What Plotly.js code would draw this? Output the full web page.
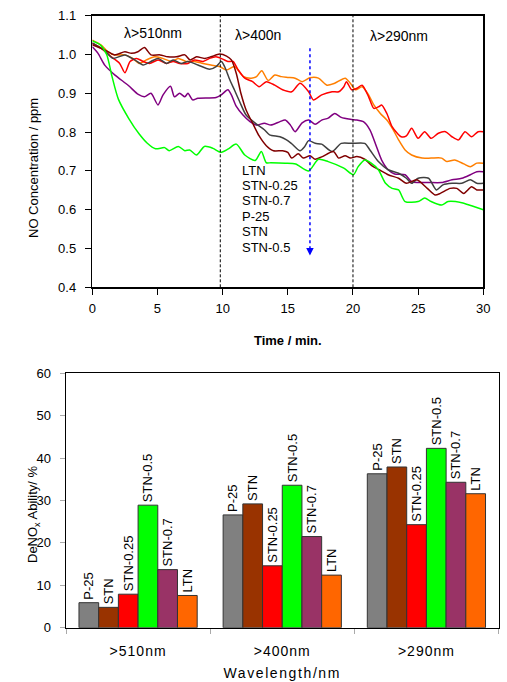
<!DOCTYPE html>
<html><head><meta charset="utf-8">
<script src="https://cdn.plot.ly/plotly-3.0.1.min.js"></script>
<style>html,body{margin:0;padding:0;background:#fff}#chart{width:507px;height:682px}
.x2tick text{letter-spacing:1px}
.x2title{letter-spacing:1.6px}
</style>
</head><body><div id="chart"></div>
<script>
// ---- Top chart: NO concentration vs time ----
const ltnT = [0,0.69,1.2,1.7,2.5,3.1,3.6,4.15,4.8,5.4,6.1,6.6,7.2,7.85,8.5,9.1,9.77,10.3,10.9,11.6,12.2,12.6,13.0,13.5,14.0,14.5,15.0,15.56,16.1,16.7,17.35,18.0,18.6,19.4,19.8,20.2,20.7,21.2,21.6,22.1,22.6,23.1,23.5,24.0,24.5,25.3,26.0,26.8,27.2,27.8,28.5,29.0,29.5,30];
const ltnV = [1.037,1.024,1.007,0.999,0.999,0.99,0.977,0.986,0.994,0.99,0.982,0.99,0.982,0.982,0.977,0.973,0.969,0.96,0.969,0.943,0.939,0.943,0.958,0.933,0.947,0.943,0.941,0.939,0.93,0.94,0.939,0.921,0.926,0.939,0.926,0.909,0.917,0.896,0.87,0.848,0.831,0.805,0.78,0.754,0.741,0.733,0.733,0.733,0.724,0.728,0.718,0.711,0.72,0.72];

const stn025T = [0,0.69,1.46,2.1,2.5,2.9,3.4,3.9,4.4,5.05,5.7,6.2,6.7,7.34,7.85,8.5,9.0,9.5,10.0,10.4,10.8,11.2,11.7,12.3,12.8,13.35,14.0,14.6,15.3,15.94,16.6,16.96,17.6,18.4,18.9,19.3,19.5,19.9,20.3,20.7,21.2,21.6,22.0,22.2,22.6,23.0,23.4,23.7,24.1,24.5,25.0,25.5,26.0,26.55,27.1,27.6,28.1,28.6,29.1,29.6,30];
const stn025V = [1.029,1.016,0.994,0.977,0.953,0.982,0.99,0.982,0.977,0.986,0.977,0.982,0.977,0.977,0.986,0.982,0.99,0.994,0.988,0.982,0.982,0.96,0.939,0.93,0.917,0.93,0.921,0.909,0.904,0.926,0.904,0.883,0.896,0.904,0.904,0.917,0.93,0.909,0.913,0.921,0.891,0.861,0.866,0.87,0.848,0.814,0.797,0.788,0.79,0.81,0.784,0.801,0.784,0.797,0.801,0.788,0.78,0.801,0.788,0.801,0.801];

const stn07T = [0,0.44,0.97,1.74,2.77,3.53,4.0,4.5,5.04,5.43,6.0,6.3,6.7,7.1,7.34,7.7,8.1,9.5,9.9,10.4,10.67,11.05,11.56,12.1,12.6,13.2,13.7,14.4,14.8,15.2,15.56,16.1,16.6,17.1,17.6,18.1,18.6,19.1,19.8,20.3,20.8,21.3,21.8,22.2,22.7,23.2,24.0,24.5,25.0,25.8,26.8,27.6,28.35,29.0,29.5,30];
const stn07V = [1.02,1.003,0.972,0.947,0.92,0.897,0.891,0.9,0.87,0.896,0.918,0.891,0.9,0.891,0.9,0.883,0.887,0.889,0.896,0.909,0.896,0.866,0.844,0.827,0.818,0.823,0.818,0.827,0.831,0.818,0.801,0.824,0.831,0.82,0.831,0.836,0.848,0.838,0.833,0.831,0.827,0.806,0.763,0.728,0.703,0.692,0.69,0.672,0.67,0.67,0.67,0.677,0.681,0.69,0.698,0.698];

const p25T = [0,0.95,1.6,2.5,3.25,3.9,4.5,5.05,5.7,6.2,6.8,7.35,8.1,9.0,9.5,9.9,10.15,10.5,10.9,11.3,11.8,12.5,13.2,13.6,14.4,14.9,15.3,15.94,16.3,16.6,17.1,17.6,18.4,19.1,19.9,20.9,21.3,21.95,22.7,23.5,24.1,24.5,25.0,25.8,26.4,26.9,27.6,28.35,29.0,29.5,30];
const p25V = [1.03,1.01,0.99,0.999,0.986,0.973,0.982,0.99,0.977,0.986,0.977,0.982,0.973,0.962,0.969,0.982,0.969,0.939,0.909,0.879,0.844,0.823,0.806,0.793,0.788,0.78,0.77,0.752,0.763,0.778,0.771,0.769,0.75,0.771,0.771,0.771,0.754,0.724,0.703,0.694,0.681,0.668,0.681,0.681,0.651,0.664,0.668,0.668,0.677,0.668,0.668];

const stnT = [0,0.95,1.7,2.5,3.0,3.5,4.0,4.5,5.2,5.8,6.45,7.1,7.5,8.0,8.6,9.1,9.77,10.3,10.67,11.05,11.4,11.8,12.3,12.8,13.35,13.9,14.6,15.0,15.3,15.8,16.2,16.7,17.1,17.6,18.5,18.9,19.4,19.8,20.3,20.9,21.5,22.0,22.7,23.5,24.1,24.9,25.7,26.3,26.7,27.45,27.97,28.5,29.1,29.5,30];
const stnV = [1.025,1.012,0.999,1.007,1.003,1.007,1.018,0.999,0.999,0.994,0.994,0.999,0.986,0.994,0.99,0.994,1.001,0.996,0.986,0.951,0.9,0.857,0.823,0.79,0.765,0.752,0.752,0.748,0.733,0.744,0.733,0.739,0.73,0.736,0.75,0.733,0.739,0.733,0.737,0.73,0.712,0.703,0.69,0.681,0.668,0.677,0.655,0.638,0.642,0.655,0.655,0.642,0.659,0.651,0.651];

const stn05T = [0,0.6,1.1,1.5,2.0,2.8,3.6,4.2,4.85,5.55,5.9,6.6,7.1,7.47,8.0,8.6,9.26,9.85,10.4,11.05,11.7,12.5,12.97,13.35,13.7,14.8,15.6,16.6,17.35,18.1,19.3,20.03,20.4,20.9,21.4,21.95,22.5,23.0,23.5,24.0,25.0,25.5,26.0,26.8,27.3,28.35,29.1,30];
const stn05V = [1.035,1.025,1.0,0.945,0.885,0.835,0.795,0.772,0.757,0.76,0.752,0.763,0.752,0.754,0.741,0.763,0.758,0.748,0.756,0.769,0.741,0.727,0.75,0.721,0.721,0.72,0.718,0.7,0.73,0.724,0.707,0.69,0.711,0.728,0.72,0.703,0.668,0.655,0.651,0.621,0.621,0.63,0.621,0.612,0.621,0.618,0.61,0.6];

const lineNames = ['LTN','STN-0.25','STN-0.7','P-25','STN','STN-0.5'];
const lineColors = ['#FF7F00','#FF0000','#800080','#404040','#800000','#00FF00'];
const lineT = [ltnT, stn025T, stn07T, p25T, stnT, stn05T];
const lineV = [ltnV, stn025V, stn07V, p25V, stnV, stn05V];

const regionBounds = [9.82, 20];
const regionLabels = ['λ>510nm','λ>400n','λ>290nm'];
const arrowX = 16.7, arrowTop = 1.016, arrowBottom = 0.482;

// ---- Bottom chart: DeNOx ability ----
const wavelengths = ['>510nm','>400nm','>290nm'];
const samples = ['P-25','STN','STN-0.25','STN-0.5','STN-0.7','LTN'];
const p25Ability = [5.9, 26.6, 36.3];
const stnAbility = [4.8, 29.2, 37.9];
const stn025Ability = [7.9, 14.6, 24.3];
const stn05Ability = [28.9, 33.6, 42.3];
const stn07Ability = [13.7, 21.5, 34.3];
const ltnAbility = [7.6, 12.4, 31.6];
const barColors = ['#808080','#993300','#FF0000','#00FF00','#993366','#FF6600'];
const abilities = [p25Ability, stnAbility, stn025Ability, stn05Ability, stn07Ability, ltnAbility];

const FONT = 'Liberation Sans, Arial, sans-serif';
const traces = [];
lineNames.forEach((n, i) => {
  traces.push({
    type: 'scatter', mode: 'lines', name: n,
    x: lineT[i], y: lineV[i], xaxis: 'x', yaxis: 'y',
    line: {color: lineColors[i], width: 1.5, shape: 'spline', smoothing: 0.7},
    showlegend: false, hoverinfo: 'skip'
  });
});
samples.forEach((s, i) => {
  traces.push({
    type: 'bar', name: s, x: wavelengths, y: abilities[i], xaxis: 'x2', yaxis: 'y2',
    marker: {color: barColors[i], line: {color: '#333', width: 1}},
    text: wavelengths.map(() => s), textposition: 'outside', textangle: -90,
    constraintext: 'none', cliponaxis: false,
    textfont: {family: FONT, size: 13, color: '#000'},
    showlegend: false, hoverinfo: 'skip'
  });
});

const shapes = regionBounds.map(b => ({
  type: 'line', xref: 'x', yref: 'y', x0: b, x1: b, y0: 0.4, y1: 1.1,
  line: {color: '#000', width: 1, dash: '3px,2px'}
}));
shapes.push({type: 'line', xref: 'x', yref: 'y', x0: arrowX, x1: arrowX, y0: arrowTop, y1: arrowBottom + 0.01,
  line: {color: '#0000FF', width: 1.5, dash: 'dot'}});

const annotations = [];
const regionX = [152.5/507, 257.5/507, 399/507];
const regionY = [1-33/682, 1-35/682, 1-36/682];
regionLabels.forEach((t, i) => annotations.push({
  text: t, xref: 'paper', yref: 'paper', x: regionX[i], y: regionY[i],
  xanchor: 'center', yanchor: 'middle',
  showarrow: false, font: {family: FONT, size: 14, color: '#000'}
}));
lineNames.forEach((n, i) => annotations.push({
  text: n, xref: 'paper', yref: 'paper', x: 240/507, y: 1 - (170 + i*15.5)/682,
  xanchor: 'left', yanchor: 'middle', showarrow: false,
  font: {family: FONT, size: 13, color: '#000'}
}));
annotations.push({x: arrowX, y: arrowBottom, xref: 'x', yref: 'y', ax: 0, ay: -8, text: '',
  showarrow: true, arrowhead: 2, arrowsize: 1, arrowwidth: 1.5, arrowcolor: '#0000FF'});
annotations.push({text: 'NO Concentration / ppm', xref: 'paper', yref: 'paper', x: 33/507, y: 1-168/682,
  xanchor: 'center', yanchor: 'middle',
  textangle: -90, showarrow: false, font: {family: FONT, size: 13, color: '#000'}});
annotations.push({text: 'DeNO<sub>x</sub> Ability/ %', xref: 'paper', yref: 'paper', x: 33/507, y: 1-515/682,
  xanchor: 'center', yanchor: 'middle',
  textangle: -90, showarrow: false, font: {family: FONT, size: 13, color: '#000'}});

const axisCommon = {showline: true, linecolor: '#000', linewidth: 1.5, mirror: true, showgrid: false, zeroline: false,
  automargin: false, ticks: 'outside', tickcolor: '#000', tickfont: {family: FONT, size: 13, color: '#000'}};

const layout = {
  width: 507, height: 682, margin: {l: 0, r: 0, t: 0, b: 0},
  paper_bgcolor: '#fff', plot_bgcolor: '#fff', showlegend: false,
  font: {family: FONT, size: 13, color: '#000'},
  barmode: 'group', bargap: 0.18, bargroupgap: 0,
  xaxis: Object.assign({}, axisCommon, {domain: [92.3/507, 483.3/507], anchor: 'y', range: [0, 30], tick0: 0, dtick: 5, ticklen: 6,
    ticklabelstandoff: 3,
    title: {text: 'Time / min.', font: {family: FONT, size: 13, color: '#000', weight: 'bold'}, standoff: 20}}),
  yaxis: Object.assign({}, axisCommon, {domain: [1-287.3/682, 1-15.7/682], anchor: 'x', range: [0.4, 1.1], tick0: 0.4, dtick: 0.1, tickformat: '.1f', ticklen: 6,
    ticklabelstandoff: 6}),
  xaxis2: Object.assign({}, axisCommon, {domain: [66/507, 498.5/507], anchor: 'y2', type: 'category', tickson: 'boundaries',
    ticklen: 5, tickcolor: '#aaa', tickfont: {family: FONT, size: 14, color: '#000'}, ticklabelstandoff: 10,
    title: {text: 'Wavelength/nm', font: {family: FONT, size: 14, color: '#000'}, standoff: 10}}),
  yaxis2: Object.assign({}, axisCommon, {domain: [1-627.7/682, 1-373.3/682], anchor: 'x2', range: [0, 60], dtick: 10, ticklen: 5, tickcolor: '#aaa',
    ticklabelstandoff: 6}),
  shapes: shapes, annotations: annotations
};

Plotly.newPlot('chart', traces, layout, {staticPlot: true, displayModeBar: false});
</script></body></html>
